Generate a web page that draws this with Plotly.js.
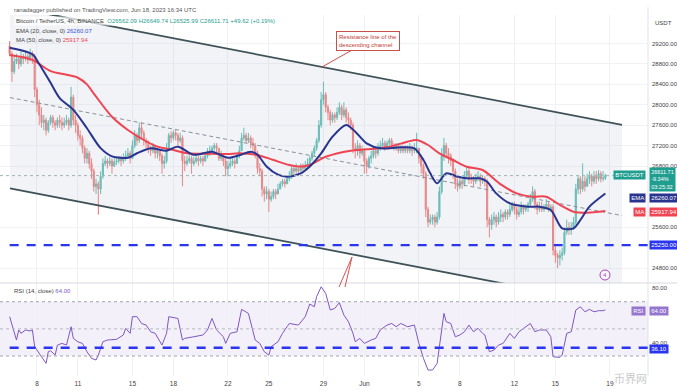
<!DOCTYPE html>
<html><head><meta charset="utf-8">
<script src="https://cdn.plot.ly/plotly-3.0.1.min.js"></script>
<style>html,body{margin:0;padding:0;background:#fff}#chart{width:677px;height:391px}</style>
</head><body><div id="chart"></div>
<script>
// ---------- DATA (4h BTC/USDT candles) ----------
const candleStart = '2023-05-06 00:00';
const firstOpen = 29150;
const closes = [29000,28650,28850,28900,28800,28950,28900,28950,28880,29000,28950,28300,
28000,27800,27650,27700,27500,27650,27750,27650,27600,27700,27650,27600,
27650,27700,27600,28150,27700,27600,27400,27350,27150,26950,27050,26850,
26700,26400,26450,26350,26600,26850,26900,26850,26900,26800,26880,26900,
26950,26900,26950,27000,27050,26950,27200,27400,27300,27550,27450,27300,
27250,27150,27100,27200,27050,27100,27000,26850,26900,27150,27400,27350,
27450,27400,27300,27350,26900,26850,26900,26950,26850,26900,26950,26900,
26950,26900,27000,27050,27100,27150,27200,27150,26950,27000,26900,26750,
26800,26850,26900,26850,27000,27100,27350,27400,27300,27350,27250,27200,
27050,26750,26700,26350,26250,26300,26150,26200,26300,26250,26350,26450,
26500,26450,26550,26600,26750,26700,26750,26700,26800,26750,26800,26850,
26950,27050,27150,27300,27600,28100,28200,27950,27850,27700,27800,27750,
27850,27950,27800,27900,27750,27700,27600,27150,27100,27200,27050,27100,
26900,26800,26950,27000,27100,27050,27150,27200,27250,27150,27250,27300,
27200,27150,27200,27100,27150,27100,27150,27100,27150,27100,27150,27150,
26950,26800,26650,25950,25700,25750,25800,25700,25800,26300,27000,27200,
27050,27000,26900,26700,26450,26400,26500,26450,26600,26700,26550,26550,
26500,26550,26600,26500,26550,26500,25750,25650,25750,25800,25700,25800,
25850,25800,25900,25850,25950,26050,25950,25850,25900,26000,25950,26000,
26050,26150,26300,26050,25950,26000,25950,26000,26050,25950,26000,25150,
25050,25000,25050,25100,25500,25600,25550,25600,25700,26350,26550,26350,
26500,26400,26550,26600,26500,26600,26550,26650,26550,26562.09,26611.71];
const highs = [29250,29050,28950,29000,28950,29050,29000,29050,29000,29100,29050,29000,
28350,28100,27950,27800,27750,27700,27800,27800,27700,27750,27800,27750,
27750,27800,27750,28350,28200,27800,27650,27500,27400,27200,27150,27100,
26950,26750,26550,26500,26700,26950,27000,26950,26980,26950,26950,26980,
27000,27000,27050,27100,27150,27100,27300,27500,27450,27650,27650,27500,
27350,27300,27200,27250,27200,27150,27100,27050,27000,27250,27450,27480,
27500,27500,27450,27450,27400,27000,27000,27050,27000,26980,27050,27000,
27000,27000,27050,27150,27200,27200,27250,27250,27150,27100,27050,26950,
26900,26950,26950,26950,27050,27200,27450,27550,27450,27450,27400,27350,
27250,27100,26850,26750,26400,26400,26350,26300,26350,26350,26450,26500,
26550,26550,26600,26700,26800,26800,26850,26800,26850,26850,26900,26950,
27000,27100,27200,27350,27700,28250,28450,28250,28000,27900,27850,27850,
27950,28050,28000,28050,27950,27850,27750,27650,27250,27300,27250,27200,
27150,26950,27000,27100,27150,27150,27250,27300,27350,27300,27300,27350,
27350,27250,27250,27250,27200,27200,27200,27200,27250,27200,27250,27450,
27150,27000,26850,26700,26000,25850,25850,25850,25900,26400,27150,27350,
27250,27150,27050,26950,26750,26550,26600,26550,26700,26800,26750,26650,
26600,26650,26700,26650,26620,26600,26550,25800,25850,25900,25850,25900,
25950,25900,25950,25950,26050,26100,26100,26000,26000,26100,26050,26050,
26100,26250,26400,26350,26100,26100,26100,26050,26150,26100,26050,26050,
25250,25100,25150,25200,25600,25750,25700,25700,25800,26450,26600,26600,
26850,26600,26650,26700,26650,26700,26700,26720,26700,26700,26649.74];
const lows = [28950,28450,28600,28800,28700,28750,28800,28850,28800,28850,28800,28150,
27850,27600,27550,27500,27400,27450,27600,27550,27500,27550,27550,27500,
27550,27600,27500,27550,27600,27450,27300,27200,27050,26850,26850,26750,
26550,26300,26250,25850,26250,26550,26800,26750,26800,26650,26780,26820,
26850,26800,26850,26900,26950,26850,26950,27150,27200,27250,27350,27200,
27150,27050,27000,27050,26950,26950,26900,26650,26750,26850,27100,27250,
27300,27300,27200,27250,26400,26700,26800,26850,26650,26800,26850,26800,
26850,26800,26880,26950,27000,27050,27100,27050,26900,26900,26800,26600,
26600,26750,26800,26750,26850,26950,27100,27300,27250,27250,27150,27100,
26950,26650,26600,26200,26100,26150,25900,26100,26150,26150,26250,26350,
26400,26380,26450,26500,26550,26600,26650,26600,26700,26680,26700,26750,
26800,26900,27000,27100,27250,27550,28000,27850,27700,27600,27650,27650,
27700,27800,27700,27750,27650,27600,27500,27050,26950,27000,26950,27000,
26650,26650,26750,26850,26950,26950,27000,27100,27150,27100,27150,27200,
27150,27100,27100,27050,27050,27050,27050,27050,27050,27000,27050,27050,
26850,26650,26550,25800,25600,25650,25650,25600,25650,25750,26250,26900,
26950,26850,26800,26550,26350,26300,26350,26350,26400,26550,26450,26450,
26400,26450,26500,26400,26450,26400,25600,25400,25550,25650,25600,25650,
25700,25700,25750,25750,25800,25900,25850,25750,25800,25850,25850,25900,
25900,26000,26100,25950,25850,25900,25900,25900,25950,25900,25900,25050,
24900,24800,24850,24950,25050,25450,25450,25450,25550,25650,26250,26250,
26300,26300,26400,26450,26400,26450,26450,26500,26480,26500,26525.99];

const emaTimes = ['2023-05-06 00:00','2023-05-06 04:00','2023-05-07 16:00','2023-05-08 04:00','2023-05-09 00:00','2023-05-09 16:00','2023-05-10 16:00','2023-05-11 16:00','2023-05-12 16:00','2023-05-13 12:00','2023-05-14 16:00','2023-05-15 08:00','2023-05-16 08:00','2023-05-17 12:00','2023-05-18 08:00','2023-05-19 12:00','2023-05-20 20:00','2023-05-22 00:00','2023-05-22 20:00','2023-05-23 16:00','2023-05-24 04:00','2023-05-24 20:00','2023-05-25 16:00','2023-05-26 08:00','2023-05-27 08:00','2023-05-28 00:00','2023-05-28 20:00','2023-05-29 16:00','2023-05-30 16:00','2023-05-31 08:00','2023-06-01 04:00','2023-06-02 04:00','2023-06-03 16:00','2023-06-04 16:00','2023-06-05 08:00','2023-06-05 20:00','2023-06-06 08:00','2023-06-07 00:00','2023-06-07 20:00','2023-06-08 12:00','2023-06-09 12:00','2023-06-10 00:00','2023-06-10 16:00','2023-06-11 16:00','2023-06-13 00:00','2023-06-13 20:00','2023-06-14 16:00','2023-06-15 12:00','2023-06-16 08:00','2023-06-16 20:00','2023-06-17 12:00','2023-06-18 16:00'];
const emaValues = [29120,29110,28990,28800,28430,28130,27900,27540,27150,26990,26960,27050,27150,27100,27180,27020,27080,26960,27010,27080,27020,26790,26630,26590,26656,26790,27048,27375,27604,27473,27244,27146,27166,27146,26918,26656,26461,26656,26591,26558,26558,26493,26264,26068,26003,26003,25938,25578,25578,25742,26003,26260.07];

const maTimes = ['2023-05-06 00:00','2023-05-07 16:00','2023-05-09 00:00','2023-05-10 04:00','2023-05-11 00:00','2023-05-11 16:00','2023-05-12 04:00','2023-05-13 12:00','2023-05-14 16:00','2023-05-15 20:00','2023-05-16 20:00','2023-05-18 00:00','2023-05-19 00:00','2023-05-20 12:00','2023-05-22 00:00','2023-05-22 20:00','2023-05-24 04:00','2023-05-25 08:00','2023-05-26 12:00','2023-05-27 08:00','2023-05-28 00:00','2023-05-29 04:00','2023-05-31 00:00','2023-06-01 04:00','2023-06-02 16:00','2023-06-04 04:00','2023-06-04 20:00','2023-06-05 16:00','2023-06-06 12:00','2023-06-07 12:00','2023-06-08 12:00','2023-06-09 16:00','2023-06-11 00:00','2023-06-12 04:00','2023-06-13 08:00','2023-06-14 08:00','2023-06-15 08:00','2023-06-16 08:00','2023-06-17 08:00','2023-06-18 16:00'];
const maValues = [28976,28880,28660,28590,28530,28400,28220,27765,27506,27310,27180,27114,27050,27040,27036,27049,27016,26918,26820,26790,26820,26982,27101,27127,27166,27277,27310,27212,27048,26918,26787,26722,26440,26264,26199,26199,26036,25905,25885,25917.94];

const rsiTimes = ['2023-05-06 00:00','2023-05-06 12:00','2023-05-06 16:00','2023-05-06 20:00','2023-05-07 04:00','2023-05-07 12:00','2023-05-07 16:00','2023-05-07 20:00','2023-05-08 08:00','2023-05-08 16:00','2023-05-08 20:00','2023-05-09 00:00','2023-05-09 08:00','2023-05-09 12:00','2023-05-09 20:00','2023-05-10 04:00','2023-05-10 12:00','2023-05-10 16:00','2023-05-11 00:00','2023-05-11 08:00','2023-05-11 16:00','2023-05-12 00:00','2023-05-12 08:00','2023-05-12 12:00','2023-05-12 20:00','2023-05-13 04:00','2023-05-13 20:00','2023-05-14 08:00','2023-05-14 12:00','2023-05-14 20:00','2023-05-15 00:00','2023-05-15 08:00','2023-05-15 16:00','2023-05-16 00:00','2023-05-16 08:00','2023-05-16 16:00','2023-05-17 04:00','2023-05-17 12:00','2023-05-17 16:00','2023-05-18 08:00','2023-05-18 16:00','2023-05-18 20:00','2023-05-19 12:00','2023-05-20 04:00','2023-05-20 12:00','2023-05-20 20:00','2023-05-21 04:00','2023-05-21 16:00','2023-05-21 20:00','2023-05-22 04:00','2023-05-22 16:00','2023-05-23 00:00','2023-05-23 12:00','2023-05-24 00:00','2023-05-24 08:00','2023-05-24 16:00','2023-05-25 00:00','2023-05-25 04:00','2023-05-25 16:00','2023-05-26 00:00','2023-05-26 08:00','2023-05-26 12:00','2023-05-27 04:00','2023-05-27 16:00','2023-05-28 00:00','2023-05-28 08:00','2023-05-28 12:00','2023-05-28 20:00','2023-05-29 04:00','2023-05-29 12:00','2023-05-29 20:00','2023-05-30 04:00','2023-05-30 12:00','2023-05-30 20:00','2023-05-31 04:00','2023-05-31 08:00','2023-05-31 16:00','2023-06-01 00:00','2023-06-01 12:00','2023-06-01 20:00','2023-06-02 04:00','2023-06-02 16:00','2023-06-03 00:00','2023-06-03 08:00','2023-06-03 16:00','2023-06-04 04:00','2023-06-04 16:00','2023-06-05 00:00','2023-06-05 08:00','2023-06-05 16:00','2023-06-06 00:00','2023-06-06 08:00','2023-06-06 12:00','2023-06-06 20:00','2023-06-07 00:00','2023-06-07 08:00','2023-06-07 16:00','2023-06-08 00:00','2023-06-08 08:00','2023-06-08 16:00','2023-06-09 00:00','2023-06-09 08:00','2023-06-09 16:00','2023-06-09 20:00','2023-06-10 04:00','2023-06-10 12:00','2023-06-10 20:00','2023-06-11 04:00','2023-06-11 16:00','2023-06-12 00:00','2023-06-12 08:00','2023-06-12 20:00','2023-06-13 04:00','2023-06-13 12:00','2023-06-13 20:00','2023-06-14 08:00','2023-06-14 16:00','2023-06-14 20:00','2023-06-15 08:00','2023-06-15 12:00','2023-06-15 20:00','2023-06-16 04:00','2023-06-16 12:00','2023-06-16 20:00','2023-06-17 04:00','2023-06-17 12:00','2023-06-17 20:00','2023-06-18 04:00','2023-06-18 12:00','2023-06-18 16:00'];
const rsiValues = [59.0,41.8,49.2,46.7,49.2,48.5,49.2,36.9,29.5,24.6,33.2,33.9,30.7,38.1,39.3,38.1,51.6,43.0,40.5,39.3,33.2,28.3,27.1,30.7,40.5,41.8,42.3,45.5,50.4,46.7,59.0,59.0,54.0,52.8,47.9,46.7,38.1,46.7,59.0,57.7,41.8,43.0,44.2,45.5,49.2,57.7,49.2,44.2,39.3,46.7,47.9,64.4,61.4,41.8,39.3,33.2,30.7,36.9,40.5,46.7,51.6,54.0,52.8,59.0,68.3,66.3,73.7,81.0,76.1,63.9,65.1,69.3,60.2,55.3,46.7,40.5,43.0,39.3,41.8,43.0,49.2,52.8,54.0,51.6,54.0,51.6,52.8,39.3,28.3,19.7,19.7,24.6,36.9,61.4,55.3,54.0,44.2,45.5,47.9,52.8,47.9,50.4,46.7,45.5,33.2,34.4,38.1,39.3,46.7,43.0,47.9,51.6,54.0,47.9,49.2,49.2,44.2,29.5,29.0,30.7,46.7,47.9,63.9,66.3,62.6,64.4,62.6,63.4,63.4,64.0];

// channel drawing anchors (time, price)
const channelTimes = ['2023-05-06 00:30','2023-06-19 21:20'];
const channelUpper = [29922, 27608];
const channelLower = [26363, 24048];
const channelMid = [28142, 25828];
const supportLevel = 25250;
const rsiLevel = 36.10;
const lastPrice = 26611.71;

const dateTickVals = ['2023-05-08','2023-05-11','2023-05-15','2023-05-18','2023-05-22','2023-05-25','2023-05-29','2023-06-01','2023-06-05','2023-06-08','2023-06-12','2023-06-15','2023-06-19'];
const dateTickText = ['8','11','15','18','22','25','29','Jun','5','8','12','15','19'];
// price ticks that are not hidden behind the right-hand value tags
const priceTicks = [24800,25600,26800,27200,27600,28000,28400,28800,29200];
const rsiTicks = [40,80];

// ---------- BUILD ----------
function candleTime(i){
  const d = new Date(Date.parse(candleStart.replace(' ','T')+':00Z') + i*4*3600*1000);
  return d.toISOString().slice(0,16).replace('T',' ');
}
const times = closes.map((c,i)=>candleTime(i));
const opens = closes.map((c,i)=> i===0 ? firstOpen : closes[i-1]);

const W=677,H=391;
const px = x => x/W, py = y => 1 - y/H;
const FONT = 'Liberation Sans, Arial, sans-serif';

const traces = [
  {type:'scatter', x:[channelTimes[0],channelTimes[1],channelTimes[1],channelTimes[0],channelTimes[0]],
   y:[channelUpper[0],channelUpper[1],channelLower[1],channelLower[0],channelUpper[0]],
   fill:'toself', fillcolor:'rgba(205,211,222,0.28)', line:{width:0}, mode:'lines', hoverinfo:'skip', xaxis:'x', yaxis:'y'},
  {type:'scatter', x:channelTimes, y:channelUpper, mode:'lines', line:{color:'#3f5257', width:1.8}, hoverinfo:'skip'},
  {type:'scatter', x:channelTimes, y:channelLower, mode:'lines', line:{color:'#3f5257', width:1.8}, hoverinfo:'skip'},
  {type:'scatter', x:channelTimes, y:channelMid, mode:'lines', line:{color:'#8a8f99', width:1, dash:'4px,3px'}, hoverinfo:'skip'},
  {type:'candlestick', x:times, open:opens, high:highs, low:lows, close:closes,
   increasing:{line:{color:'#26a69a', width:1}, fillcolor:'#26a69a'},
   decreasing:{line:{color:'#ef5350', width:1}, fillcolor:'#ef5350'},
   whiskerwidth:0, opacity:0.85, hoverinfo:'skip', xaxis:'x', yaxis:'y'},
  {type:'scatter', x:maTimes, y:maValues, mode:'lines', line:{color:'#ef4452', width:2, shape:'spline', smoothing:0.8}, hoverinfo:'skip'},
  {type:'scatter', x:emaTimes, y:emaValues, mode:'lines', line:{color:'#28348f', width:2, shape:'spline', smoothing:0.8}, hoverinfo:'skip'},
  {type:'scatter', x:rsiTimes, y:rsiValues, mode:'lines', line:{color:'#7e57c2', width:1}, hoverinfo:'skip', xaxis:'x', yaxis:'y2'}
];

const mainBottom = py(283), mainTop = py(15), rsiBottom = py(376);
const xEnd = '2023-06-21 19:00';

const shapes = [
  {type:'rect', xref:'paper', x0:0, x1:648/W, yref:'y2', y0:30, y1:70, fillcolor:'rgba(126,87,194,0.09)', line:{width:0}, layer:'below'},
  {type:'line', xref:'paper', x0:0, x1:648/W, yref:'y2', y0:70, y1:70, line:{color:'#a0a3ab', width:1, dash:'dot'}},
  {type:'line', xref:'paper', x0:0, x1:648/W, yref:'y2', y0:50, y1:50, line:{color:'#b5b8bf', width:1, dash:'dot'}},
  {type:'line', xref:'paper', x0:0, x1:648/W, yref:'y2', y0:30, y1:30, line:{color:'#a0a3ab', width:1, dash:'dot'}},
  {type:'line', xref:'paper', x0:0, x1:1, yref:'paper', y0:mainBottom, y1:mainBottom, line:{color:'#d6d9e0', width:1}},
  {type:'line', xref:'paper', x0:648/W, x1:648/W, yref:'paper', y0:rsiBottom, y1:mainTop+0.02, line:{color:'#e0e3eb', width:1}},
  {type:'line', xref:'paper', x0:0, x1:648/W, yref:'y', y0:lastPrice, y1:lastPrice, line:{color:'#9fb4b2', width:1, dash:'dot'}},
  {type:'line', xref:'x', x0:'2023-05-06 00:00', x1:xEnd, yref:'y', y0:supportLevel, y1:supportLevel, line:{color:'#2a35ef', width:2.4, dash:'9px,8px'}},
  {type:'line', xref:'x', x0:'2023-05-06 00:00', x1:xEnd, yref:'y2', y0:rsiLevel, y1:rsiLevel, line:{color:'#2a35ef', width:2.4, dash:'9px,8px'}},
  {type:'path', xref:'paper', yref:'paper', path:`M ${px(339)} ${py(287)} L ${px(352)} ${py(257)} L ${px(345)} ${py(287)}`, line:{color:'#d9534f', width:1}},
  {type:'circle', xref:'paper', yref:'paper', x0:px(600), x1:px(610), y0:py(280), y1:py(270), line:{color:'#b23fc4', width:1}, fillcolor:'rgba(255,255,255,0.6)'}
];

function A(x,y,text,opt){ return Object.assign({xref:'paper',yref:'paper',x:px(x),y:py(y),text:text,showarrow:false,xanchor:'left',yanchor:'middle',font:{family:FONT,size:6,color:'#444'}},opt||{}); }
function tag(x,y,text,bg,opt){ return A(x,y,text,Object.assign({bgcolor:bg,borderpad:1.2,font:{family:FONT,size:6,color:'#ffffff'}},opt||{})); }

const teal = '#1f9e8f';
const annotations = [
  A(12,10,'ranadagger published on TradingView.com, Jun 18, 2023 16:34 UTC',{font:{family:FONT,size:6,color:'#555'}}),
  A(14,21,`Bitcoin / TetherUS, 4h, BINANCE  <span style="color:${teal}">O26562.09</span> <span style="color:${teal}">H26649.74</span> <span style="color:${teal}">L26525.99</span> <span style="color:${teal}">C26611.71</span> <span style="color:${teal}">+49.62 (+0.19%)</span>`,{bgcolor:'rgba(255,255,255,0.7)',font:{family:FONT,size:6,color:'#444'}}),
  A(14,31,'EMA (20, close, 0) <span style="color:#3a55d0">26260.07</span>',{font:{family:FONT,size:6,color:'#444'}}),
  A(14,40,'MA (50, close, 0) <span style="color:#ef4452">25917.94</span>',{font:{family:FONT,size:6,color:'#444'}}),
  A(12,291,'RSI (14, close) <span style="color:#7e57c2">64.00</span>',{font:{family:FONT,size:6,color:'#444'}}),
  A(653,23,'USDT',{font:{family:FONT,size:6,color:'#444'}}),
  {xref:'x', yref:'y', x:'2023-05-28 21:20', y:28740, ax:46, ay:-26, text:'Resistance line of the<br>descending channel',
   showarrow:true, arrowhead:0, arrowwidth:1, arrowcolor:'#c8504a', bgcolor:'#ffffff', bordercolor:'#c8504a', borderwidth:1, borderpad:2,
   align:'left', font:{family:FONT,size:6,color:'#c03b36'}},
  A(605,275,'4',{xanchor:'center',font:{family:FONT,size:6,color:'#b23fc4'}}),
  tag(646,175,'BTCUSDT',teal,{xanchor:'right'}),
  tag(649,180,'26611.71<br>-9.34%<br>03:25:32',teal,{xanchor:'left',align:'left',font:{family:FONT,size:5.5,color:'#ffffff'}}),
  tag(646,198,'EMA','#28348f',{xanchor:'right'}),
  tag(649,198,'26260.07','#28348f'),
  tag(646,212,'MA','#ef4452',{xanchor:'right'}),
  tag(649,212,'25917.94','#ef4452'),
  tag(649,245,'25250.00','#2a35ef'),
  tag(646,311,'RSI','#9575cd',{xanchor:'right'}),
  tag(649,311,'64.00','#9575cd'),
  tag(649,349,'36.10','#2a35ef'),
  A(612,378,'币界网',{font:{family:'Noto Sans CJK SC',size:11,color:'rgba(150,150,150,0.55)'}})
];

const layout = {
  width:W, height:H, margin:{l:0,r:0,t:0,b:0},
  paper_bgcolor:'#ffffff', plot_bgcolor:'#ffffff',
  showlegend:false, dragmode:false,
  font:{family:FONT,size:6,color:'#444'},
  xaxis:{domain:[0,648/W], type:'date', range:['2023-05-05 07:00', xEnd], anchor:'y2',
    tickmode:'array', tickvals:dateTickVals, ticktext:dateTickText, tickfont:{family:FONT,size:6.5,color:'#444'},
    showgrid:true, gridcolor:'#eef0f4', gridwidth:1, zeroline:false, showline:false, ticks:'', ticklabelstandoff:2,
    rangeslider:{visible:false}, fixedrange:true},
  yaxis:{domain:[mainBottom, mainTop], range:[24507, 29760], side:'right', anchor:'x',
    tickmode:'array', tickvals:priceTicks, tickformat:'.2f', tickfont:{family:FONT,size:6,color:'#444'},
    showgrid:true, gridcolor:'#f0f2f5', zeroline:false, showline:false, ticks:'', ticklabelstandoff:3, fixedrange:true},
  yaxis2:{domain:[rsiBottom, mainBottom], range:[15.3, 83.8], side:'right', anchor:'x',
    tickmode:'array', tickvals:rsiTicks, tickformat:'.2f', tickfont:{family:FONT,size:6,color:'#444'},
    showgrid:false, zeroline:false, showline:false, ticks:'', ticklabelstandoff:3, fixedrange:true},
  shapes:shapes, annotations:annotations
};

Plotly.newPlot('chart', traces, layout, {staticPlot:true, displayModeBar:false});
</script>
</body></html>
